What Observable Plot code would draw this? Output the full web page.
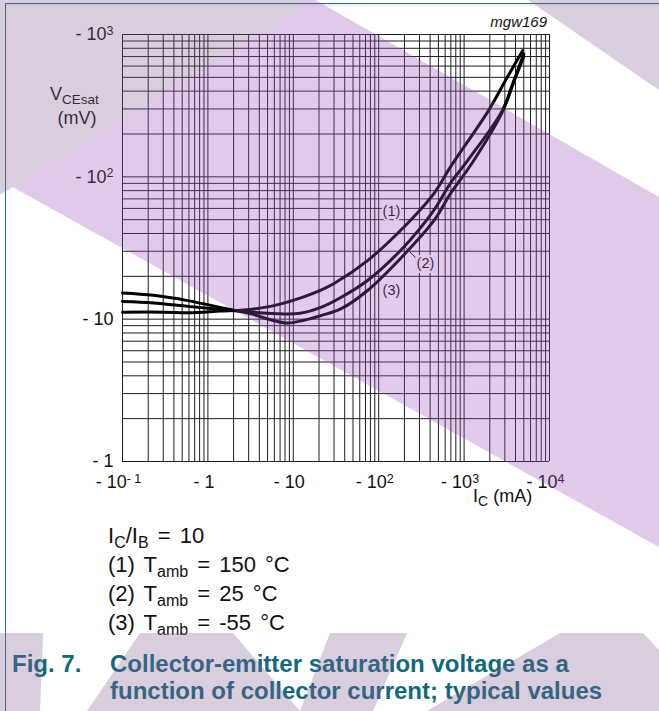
<!DOCTYPE html>
<html>
<head>
<meta charset="utf-8">
<script src="https://cdn.jsdelivr.net/npm/d3@7"></script>
<script src="https://cdn.jsdelivr.net/npm/@observablehq/plot@0.6"></script>
<style>
html, body { margin: 0; padding: 0; background: #fff; }
#wrap { position: relative; width: 659px; height: 711px; overflow: hidden; font-family: "Liberation Sans", Arial, sans-serif; }
#chart { position: absolute; left: 0; top: 0; }
#cap, #wm { position: absolute; left: 0; top: 0; pointer-events: none; }
</style>
</head>
<body>
<div id="wrap">
  <div id="chart"></div>
  <svg id="cap" width="659" height="711"></svg>
  <svg id="wm" width="659" height="711"></svg>
</div>
<script>
// ---- axis ticks ----
const xTicks = [0.1, 1, 10, 100, 1000, 10000];
const xTickLabels = ["- 10^- 1", "- 1", "- 10", "- 10^2", "- 10^3", "- 10^4"];
const yTicks = [1, 10, 100, 1000];
const yTickLabels = ["- 1", "- 10", "- 10^2", "- 10^3"];

// ---- series: IC (mA) vs VCEsat (mV), IC/IB = 10 ----
const curveNames = ["(1) 150 °C", "(2) 25 °C", "(3) -55 °C"];
const ic1 = [0.1, 0.3, 0.6, 1.4, 2.6, 5.4, 13, 21, 30, 74, 180, 440, 690, 1930, 3050, 4850];
const v1  = [11.2, 11.2, 11.1, 11.4, 11.6, 12.3, 14.3, 16.0, 17.8, 25.8, 42, 76, 117, 292, 475, 770];
const ic2 = [0.1, 0.23, 0.58, 1.4, 3.4, 7.1, 12, 21, 36, 74, 180, 440, 690, 1120, 2800, 3800, 5000];
const v2  = [13.3, 13.0, 12.3, 11.7, 11.2, 10.9, 11.0, 12.1, 14.2, 18.7, 30.4, 58, 90, 132, 292, 470, 730];
const ic3 = [0.1, 0.23, 0.58, 1.4, 3.4, 5.4, 8.5, 13, 21, 36, 74, 180, 440, 690, 1230, 2800, 3800, 5000];
const v3  = [15.3, 14.7, 13.5, 12.1, 10.8, 9.9, 9.4, 9.8, 10.6, 11.8, 15.9, 26.7, 49, 76, 124, 285, 460, 700];

// ---- curve annotations (data coordinates) ----
const annoText = ["(1)", "(2)", "(3)"];
const annoX = [141, 353, 141];
const annoY = [57, 24.6, 15.9];
const leaderX = [195, 270];
const leaderY = [32.9, 27.1];

// ---- build tables ----
const rows = [
  ...ic1.map((x, i) => ({curve: curveNames[0], ic: x, v: v1[i]})),
  ...ic2.map((x, i) => ({curve: curveNames[1], ic: x, v: v2[i]})),
  ...ic3.map((x, i) => ({curve: curveNames[2], ic: x, v: v3[i]}))
];
const annos = annoText.map((t, i) => ({t, x: annoX[i], y: annoY[i]}));
const leader = [{x1: leaderX[0], y1: leaderY[0], x2: leaderX[1], y2: leaderY[1]}];
const xGrid = d3.range(-1, 4).flatMap(e => d3.range(1, 10).map(k => k * Math.pow(10, e))).concat([10000]);
const yGrid = d3.range(0, 3).flatMap(e => d3.range(1, 10).map(k => k * Math.pow(10, e))).concat([1000]);
const xLab = new Map(xTicks.map((v, i) => [v, xTickLabels[i]]));
const yLab = new Map(yTicks.map((v, i) => [v, yTickLabels[i]]));

const FONT = '"Liberation Sans", Arial, sans-serif';
const INK = "#111";

const chart = Plot.plot({
  width: 659,
  height: 520,
  marginLeft: 122,
  marginRight: 110,
  marginTop: 34,
  marginBottom: 59,
  style: {fontFamily: FONT, fontSize: "18px", background: "white", color: INK},
  x: {type: "log", domain: [0.1, 10000]},
  y: {type: "log", domain: [1, 1000]},
  marks: [
    Plot.gridX(xGrid, {stroke: "#1e1e1e", strokeOpacity: 1, strokeWidth: 1}),
    Plot.gridY(yGrid, {stroke: "#1e1e1e", strokeOpacity: 1, strokeWidth: 1}),
    Plot.axisX(xTicks, {tickSize: 0, tickPadding: 14, tickFormat: d => xLab.get(d), fontSize: 18, dx: -4, label: null}),
    Plot.axisY(yTicks, {tickSize: 0, tickPadding: 9, tickFormat: d => yLab.get(d), fontSize: 18, label: null}),
    Plot.line(rows, {x: "ic", y: "v", z: "curve", stroke: "#000", strokeWidth: 3, curve: "catmull-rom"}),
    Plot.link(leader, {x1: "x1", y1: "y1", x2: "x2", y2: "y2", stroke: INK, strokeWidth: 1}),
    Plot.text(annos, {x: "x", y: "y", text: "t", fontSize: 14.5, fill: INK, stroke: "white", strokeWidth: 4})
  ]
});
document.getElementById("chart").appendChild(chart);

// superscripts in tick labels
d3.select(chart).selectAll("text").each(function () {
  const s = this.textContent;
  if (s.includes("^")) {
    const [a, b] = s.split("^");
    const el = d3.select(this);
    el.text(a);
    el.append("tspan").attr("dy", "-0.42em").attr("font-size", "12.5px").text(b);
  }
});

// axis titles and figure code
const svg = d3.select(chart);
const lg = svg.append("g").attr("font-family", FONT).attr("fill", INK).attr("text-anchor", "start");
const vt = lg.append("text").attr("x", 50).attr("y", 100).attr("font-size", 18);
vt.append("tspan").text("V");
vt.append("tspan").attr("font-size", 13.5).attr("dy", 4).text("CEsat");
lg.append("text").attr("x", 77).attr("y", 124).attr("text-anchor", "middle").attr("font-size", 18).text("(mV)");
const it = lg.append("text").attr("x", 473).attr("y", 502).attr("font-size", 18);
it.append("tspan").text("I");
it.append("tspan").attr("font-size", 14).attr("dy", 4).text("C");
it.append("tspan").attr("dy", -4).text(" (mA)");
lg.append("text").attr("x", 547).attr("y", 27).attr("text-anchor", "end").attr("font-size", 15).attr("font-style", "italic").text("mgw169");

// caption
const cap = d3.select("#cap").append("g").attr("font-family", FONT);
const cl = cap.append("g").attr("font-size", 22).attr("fill", INK).attr("word-spacing", "3px");
function capLine(y, parts) {
  const t = cl.append("text").attr("x", 108).attr("y", y);
  let prevSub = false;
  parts.forEach(([txt, sub]) => {
    if (sub) t.append("tspan").attr("font-size", 16).attr("dy", 5).text(txt);
    else t.append("tspan").attr("dy", prevSub ? -5 : 0).text(txt);
    prevSub = !!sub;
  });
}
capLine(543, [["I"], ["C", 1], ["/I"], ["B", 1], [" = 10"]]);
capLine(572, [["(1) T"], ["amb", 1], [" = 150 °C"]]);
capLine(601, [["(2) T"], ["amb", 1], [" = 25 °C"]]);
capLine(630, [["(3) T"], ["amb", 1], [" = -55 °C"]]);
const fg = cap.append("g").attr("font-size", 24).attr("font-weight", "bold").attr("fill", "#0f6a7b");
fg.append("text").attr("x", 12).attr("y", 672).text("Fig. 7.");
fg.append("text").attr("x", 110).attr("y", 672).text("Collector-emitter saturation voltage as a");
fg.append("text").attr("x", 110).attr("y", 699).text("function of collector current; typical values");

// page border lines
cap.append("line").attr("x1", 5.5).attr("x2", 5.5).attr("y1", 3).attr("y2", 711).attr("stroke", "#2b6f7e").attr("stroke-width", 1);
cap.append("line").attr("x1", 5).attr("x2", 659).attr("y1", 3.5).attr("y2", 3.5).attr("stroke", "#2b6f7e").attr("stroke-width", 1);
cap.append("line").attr("x1", 6).attr("x2", 659).attr("y1", 5).attr("y2", 5).attr("stroke", "#cfe6ea").attr("stroke-width", 1);

// background watermark (decoration, translucent overlay)
const wm = d3.select("#wm").append("g").attr("opacity", 0.3);
const PINK = "rgb(158,82,185)", GREY = "rgb(135,95,148)";
const shapes = [
  [PINK, [[0, -181], [659, 197], [659, 547], [0, 180]]],
  [GREY, [[0, 0], [314, 0], [13, 187], [0, 195]]],
  [GREY, [[528, 0], [659, 0], [659, 90]]],
  [GREY, [[0, 633], [43, 633], [40, 711], [0, 711]]],
  [GREY, [[140, 633], [233, 633], [300, 711], [87, 711]]],
  [GREY, [[330, 633], [407, 633], [373, 711], [300, 711]]],
  [GREY, [[560, 633], [643, 633], [659, 650], [659, 711], [427, 711]]]
];
shapes.forEach(([c, pts]) => wm.append("polygon").attr("points", pts.map(p => p.join(",")).join(" ")).attr("fill", c));
</script>
</body>
</html>
